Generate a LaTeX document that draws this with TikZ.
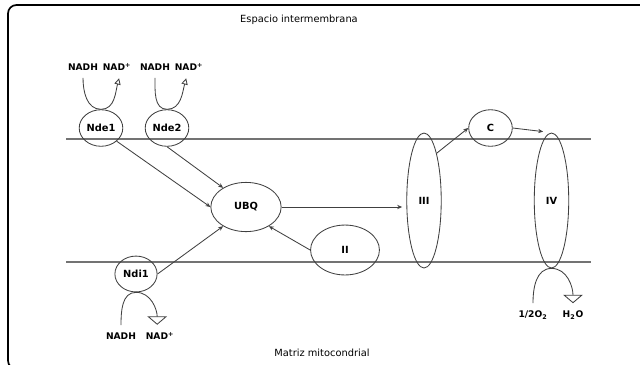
\documentclass[tikz,border=0pt]{standalone}
\usepackage{fontspec}
\setmainfont{DejaVu Sans}
\usetikzlibrary{arrows.meta,shapes.geometric}

\begin{document}
\begin{tikzpicture}[x=0.025cm, y=-0.025cm, line width=0.6pt,
        main/.style = {draw=black!75, ellipse, inner sep=0pt, font=\bfseries\fontsize{7}{8}\selectfont},
        small/.style = {main, minimum width=31pt, minimum height=26pt},
        tall/.style = {main, minimum width=24.5pt, minimum height=96pt},
        lbl/.style = {inner xsep=1pt, inner ysep=5pt, font=\bfseries\fontsize{6.5}{8}\selectfont},
        title/.style = {font=\fontsize{7}{8}\selectfont},
        membrane/.style = {draw=black!55, line width=0.8pt},
        go/.style = {draw=black!75, -{Stealth[length=3.5pt, width=3pt]}},
        uses/.style = {draw=black!75, -{Triangle[open, length=4.5pt, width=4.5pt]}},
        gives/.style = {draw=black!75, -{Triangle[open, length=6pt, width=14pt]}}]

        \useasboundingbox (0,0) rectangle (640,364);
        \draw[line width=1.2pt, rounded corners=6pt] (660,5) -- (8,5) -- (8,369) -- (40,369);

        \draw[membrane] (66,139) -- (591,139);
        \draw[membrane] (66,262) -- (591,262);

        \node[title] (ims) at (299,20) {Espacio intermembrana};
        \node[title] (mat) at (322,353) {Matriz mitocondrial};

        \node[small] (Nde1) at (101,128) {Nde1};
        \node[small] (Nde2) at (167,128) {Nde2};
        \node[small, minimum width=30pt, minimum height=25.5pt] (Ndi1) at (136,274) {Ndi1};
        \node[main, minimum width=50pt, minimum height=35pt] (UBQ) at (246,207) {UBQ};
        \node[main, minimum width=49pt, minimum height=35.5pt] (II) at (345,250) {II};
        \node[tall] (III) at (424,200.5) {III};
        \node[small] (C) at (490.5,128) {C};
        \node[tall] (IV) at (551.5,200.5) {IV};

        \node[lbl] (nadh1) at (83,67) {NADH};
        \node[lbl] (nad1) at (117,67) {NAD\textsuperscript{+}};
        \node[lbl] (nadh2) at (155,67) {NADH};
        \node[lbl] (nad2) at (189,67) {NAD\textsuperscript{+}};
        \node[lbl] (nadh3) at (121,336) {NADH};
        \node[lbl] (nad3) at (160,336) {NAD\textsuperscript{+}};
        \node[lbl] (o2) at (533,315) {1/2O\textsubscript{2}};
        \node[lbl] (h2o) at (573,315) {H\textsubscript{2}O};

        \draw[uses] (nadh1.south) to[out=-90, in=180] (Nde1.north) to[out=0, in=-105] ([xshift=1.5pt]nad1.south);
        \draw[uses] (nadh2.south) to[out=-90, in=180] (Nde2.north) to[out=0, in=-105] ([xshift=-2pt]nad2.south);
        \draw[gives] (nadh3.north) to[out=90, in=180] (Ndi1.south) to[out=0, in=90] ([xshift=-2pt]nad3.north);
        \draw[gives] (o2.north) to[out=90, in=180] (IV.south) to[out=0, in=90] (h2o.north);

        \draw[go] (Nde1.south east) -- (UBQ.west);
        \draw[go] (Nde2.south) -- (UBQ.140);
        \draw[go] (Ndi1.east) -- (UBQ.220);
        \draw[go] (II.west) -- (UBQ.-40);
        \draw[go, shorten >=3pt] (UBQ.east) -- (UBQ.east -| III.west);
        \draw[go] (III.75) -- (C.west);
        \draw[go, shorten >=6pt] (C.east) -- (IV.north);

    \end{tikzpicture}
\end{document}
